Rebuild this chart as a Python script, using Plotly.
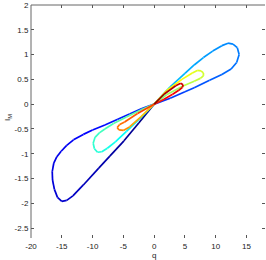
import plotly.graph_objects as go
import numpy as np

# Traced trajectory, in time order: six lobes of one pinched loop (q, I_M)
lobe1_q = [0, -2.5, -4.9, -7.2, -9.0, -11.5, -13.2, -14.2, -15.0, -15.7, -16.2, -16.5, -16.55, -16.3, -15.8, -15.1, -14.2, -13.1, -11.5, -10.0, -8.0, -6.0, -4.0, -2.0, 0]
lobe1_i = [0, -0.38, -0.74, -1.05, -1.29, -1.63, -1.85, -1.94, -1.96, -1.88, -1.72, -1.53, -1.36, -1.19, -1.06, -0.95, -0.83, -0.72, -0.61, -0.52, -0.42, -0.31, -0.20, -0.09, 0]

lobe2_q = [0, 2.6, 5.0, 6.5, 9.0, 11.0, 12.5, 13.4, 13.8, 13.5, 12.8, 12.0, 11.0, 9.5, 8.0, 6.5, 5.0, 2.6, 0]
lobe2_i = [0, 0.12, 0.25, 0.33, 0.48, 0.60, 0.71, 0.84, 1.00, 1.14, 1.21, 1.23, 1.18, 1.07, 0.94, 0.79, 0.62, 0.35, 0]

lobe3_q = [0, -2.0, -4.5, -6.3, -7.6, -8.5, -9.2, -9.7, -9.9, -9.6, -8.9, -8.0, -6.6, -4.5, -2.0, 0]
lobe3_i = [0, -0.25, -0.55, -0.76, -0.89, -0.96, -0.97, -0.90, -0.79, -0.67, -0.58, -0.50, -0.39, -0.26, -0.11, 0]

lobe4_q = [0, 2.0, 4.6, 6.5, 7.5, 8.0, 8.0, 7.6, 7.0, 6.2, 4.5, 2.0, 0]
lobe4_i = [0, 0.19, 0.36, 0.46, 0.52, 0.57, 0.63, 0.67, 0.68, 0.63, 0.50, 0.27, 0]

lobe5_q = [0, -2.2, -4.0, -5.0, -5.7, -6.0, -5.6, -4.8, -2.7, 0]
lobe5_i = [0, -0.26, -0.46, -0.53, -0.52, -0.47, -0.41, -0.36, -0.19, 0]

lobe6_q = [0, 1.6, 3.0, 4.0, 4.6, 4.7, 4.3, 3.5, 1.6, 0]
lobe6_i = [0, 0.10, 0.20, 0.28, 0.34, 0.39, 0.42, 0.37, 0.20, 0]

x_ticks = [-20, -15, -10, -5, 0, 5, 10, 15]
x_tick_labels = ["-20", "-15", "-10", "-5", "0", "5", "10", "15"]
y_ticks = [-2.5, -2, -1.5, -1, -0.5, 0, 0.5, 1, 1.5, 2]
y_tick_labels = ["-2.5", "-2", "-1.5", "-1", "-0.5", "0", "0.5", "1", "1.5", "2"]

lobes = [(lobe1_q, lobe1_i), (lobe2_q, lobe2_i), (lobe3_q, lobe3_i),
         (lobe4_q, lobe4_i), (lobe5_q, lobe5_i), (lobe6_q, lobe6_i)]


def jet(t):
    r = min(max(1.5 - abs(4 * t - 3), 0), 1)
    g = min(max(1.5 - abs(4 * t - 2), 0), 1)
    b = min(max(1.5 - abs(4 * t - 1), 0), 1)
    return "rgb(%d,%d,%d)" % (round(r * 255), round(g * 255), round(b * 255))


fig = go.Figure()
n_lobes = len(lobes)
for k, (qs, iss) in enumerate(lobes):
    qa = np.array(qs, float)
    ia = np.array(iss, float)
    # arc length in screen-like units for colour progression
    d = np.hypot(np.diff(qa) * 6.16, np.diff(ia) * 49.6)
    cum = np.concatenate([[0], np.cumsum(d)])
    frac = cum / cum[-1]
    for j in range(len(qa) - 1):
        tmid = (k + 0.5 * (frac[j] + frac[j + 1])) / n_lobes
        fig.add_trace(go.Scatter(
            x=[qa[j], qa[j + 1]], y=[ia[j], ia[j + 1]],
            mode="lines", line=dict(color=jet(tmid), width=1.7),
            hoverinfo="skip", showlegend=False))

axis_common = dict(
    ticks="inside", ticklen=3, tickcolor="#555", tickwidth=1,
    showline=True, linecolor="rgba(0,0,0,0)", mirror="ticks",
    showgrid=False, zeroline=False, automargin=False,
    tickfont=dict(family="Liberation Sans, Arial, sans-serif", size=8, color="#222"),
)

fig.update_layout(
    width=266, height=260,
    margin=dict(l=31, r=1, t=5, b=22),
    plot_bgcolor="white", paper_bgcolor="white",
    showlegend=False,
    xaxis=dict(range=[-20, 18], tickvals=x_ticks, ticktext=x_tick_labels, **axis_common),
    yaxis=dict(range=[-2.7, 2], tickvals=y_ticks, ticktext=y_tick_labels, **axis_common),
    shapes=[
        dict(type="line", xref="paper", yref="paper", x0=0, x1=0, y0=0, y1=1,
             line=dict(color="#666", width=1)),
        dict(type="line", xref="paper", yref="paper", x0=0, x1=1, y0=1, y1=1,
             line=dict(color="#666", width=1)),
    ],
    annotations=[
        dict(text="q", xref="paper", yref="paper", x=0.526, y=-0.077,
             showarrow=False, font=dict(family="Liberation Sans, Arial", size=8, color="#222"),
             xanchor="center", yanchor="middle"),
        dict(text="I<sub>M</sub>", xref="paper", yref="paper", x=-0.098, y=0.515,
             showarrow=False, textangle=-90,
             font=dict(family="Liberation Sans, Arial", size=8, color="#222"),
             xanchor="center", yanchor="middle"),
    ],
)

fig.write_html("out.html", config={"displayModeBar": False},
               post_script="document.body.style.margin='0';document.body.style.padding='0';")
